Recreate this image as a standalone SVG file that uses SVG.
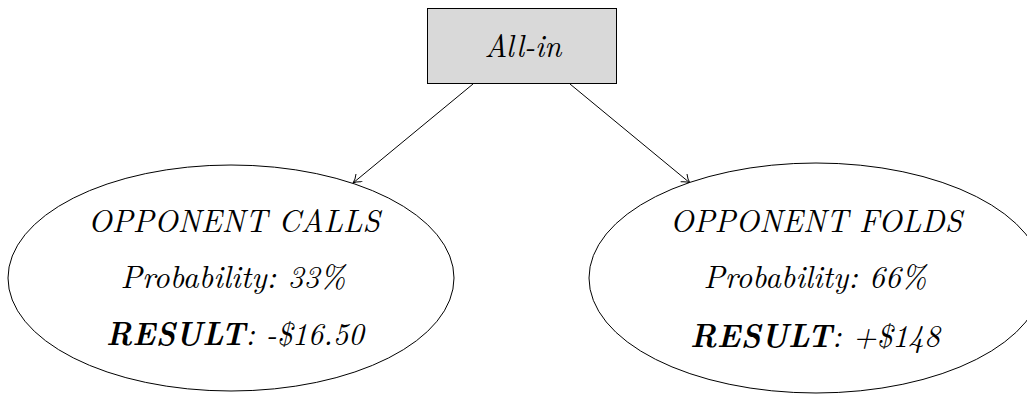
<svg xmlns="http://www.w3.org/2000/svg" width="1027" height="394" viewBox="0 0 1027 394">
<style>
.t{font-family:"Latin Modern Roman","Liberation Serif",serif;font-style:italic;fill:#000;text-anchor:middle;font-size:32px}
.shape{stroke:#000;stroke-width:1}
.edge{stroke:#000;stroke-width:1;fill:none}
</style>
<defs>
<marker id="arr" markerWidth="14" markerHeight="14" refX="10" refY="5" orient="auto" markerUnits="userSpaceOnUse">
<path d="M2,0 Q6,4 10,5 Q6,6 2,10" fill="none" stroke="#000" stroke-width="1"/>
</marker>
</defs>
<rect width="1027" height="394" fill="#fff"/>
<g id="connectors">
<line class="edge" x1="473" y1="84" x2="353" y2="183" marker-end="url(#arr)"/>
<line class="edge" x1="570" y1="84" x2="690" y2="183" marker-end="url(#arr)"/>
</g>
<g id="allin">
<rect class="shape" x="427.5" y="8.5" width="189" height="75" fill="#d9d9d9"/>
<text class="t" x="523" y="57" textLength="77" lengthAdjust="spacingAndGlyphs">All-in</text>
</g>
<g id="calls">
<ellipse class="shape" cx="231" cy="278" rx="223" ry="113" fill="#fff"/>
<text class="t" x="234" y="232" textLength="292" lengthAdjust="spacingAndGlyphs">OPPONENT CALLS</text>
<text class="t" x="233" y="288" textLength="225" lengthAdjust="spacingAndGlyphs">Probability: 33%</text>
<text class="t" x="235" y="345" textLength="258" lengthAdjust="spacingAndGlyphs"><tspan font-weight="bold">RESULT</tspan>: -$16.50</text>
</g>
<g id="folds">
<ellipse class="shape" cx="816" cy="278" rx="227" ry="115" fill="#fff"/>
<text class="t" x="816" y="232" textLength="292" lengthAdjust="spacingAndGlyphs">OPPONENT FOLDS</text>
<text class="t" x="815" y="288" textLength="223" lengthAdjust="spacingAndGlyphs">Probability: 66%</text>
<text class="t" x="815" y="347" textLength="250" lengthAdjust="spacingAndGlyphs"><tspan font-weight="bold">RESULT</tspan>: +$148</text>
</g>
</svg>
